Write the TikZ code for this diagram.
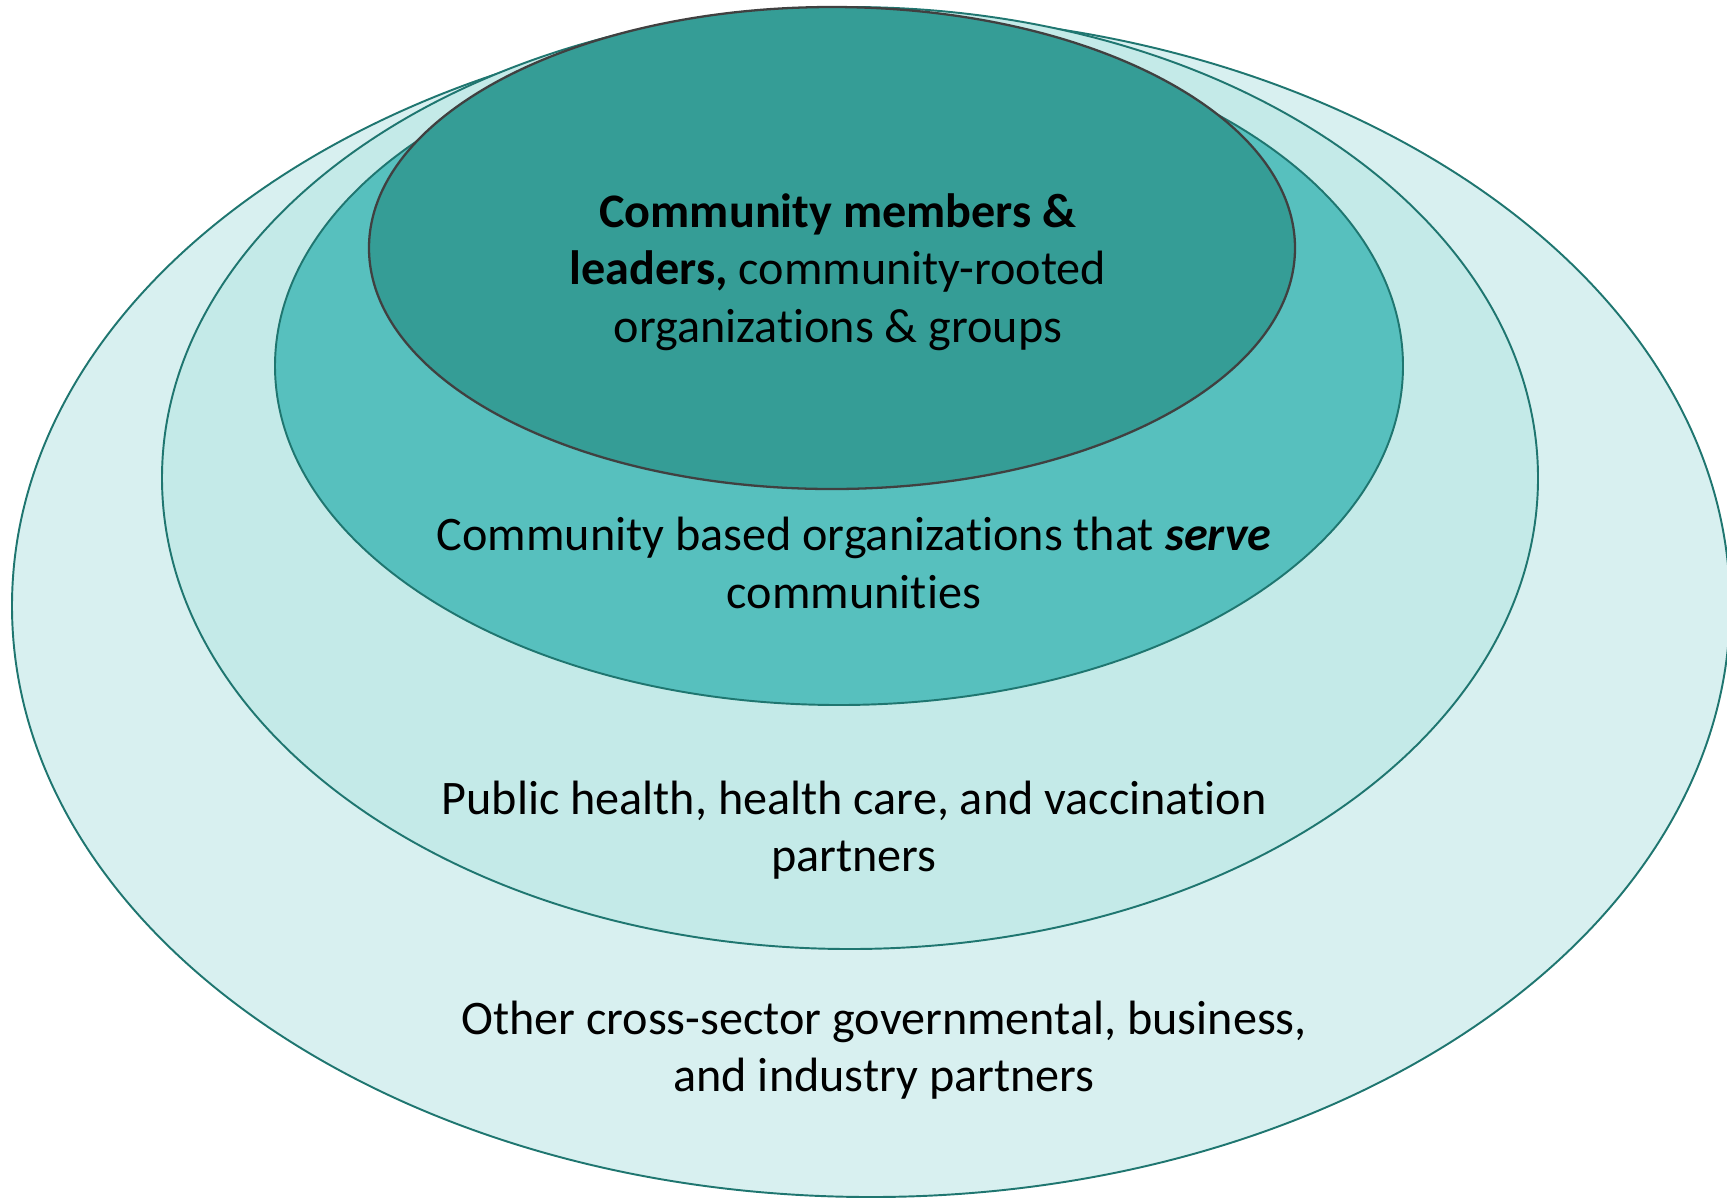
\documentclass[tikz,border=0pt]{standalone}
\usepackage{fontspec}
\setmainfont[Ligatures=NoCommon]{Carlito}
\usepackage{tikz}

\definecolor{ringline}{HTML}{1F7670}
\definecolor{coreline}{HTML}{404040}
\definecolor{ringfour}{HTML}{D8F0F0}
\definecolor{ringthree}{HTML}{C4EAE8}
\definecolor{ringtwo}{HTML}{57C0BE}
\definecolor{ringone}{HTML}{359D96}

\begin{document}
\begin{tikzpicture}[x=0.01cm,y=-0.01cm,
ring/.style={draw=ringline,line width=0.55pt},
label/.style={align=center,inner sep=0pt,font=\fontsize{13.7}{16.4}\selectfont}]
\clip (0,0) rectangle (1727,1199);
% rings, outside in
\draw[ring,fill=ringfour](871,606) ellipse [x radius=859,y radius=591];
\draw[ring,fill=ringthree](850,478) ellipse [x radius=688,y radius=471];
\draw[ring,fill=ringtwo](839,366) ellipse [x radius=564,y radius=339];
\draw[draw=coreline,line width=0.65pt,fill=ringone](832,248) ellipse [x radius=463,y radius=241];
% labels
\node[label] (core) at (838,272){\textbf{Community members \&}\\\textbf{leaders,} community-rooted\\organizations \& groups};
\node[label] (cbo) at (854,563){Community based organizations that \textbf{\textit{serve}}\\communities};
\node[label] (health) at (854,830){Public health, health care, and vaccination\\partners};
\node[label] (cross) at (884,1050){Other cross-sector governmental, business,\\and industry partners};
\end{tikzpicture}
\end{document}
